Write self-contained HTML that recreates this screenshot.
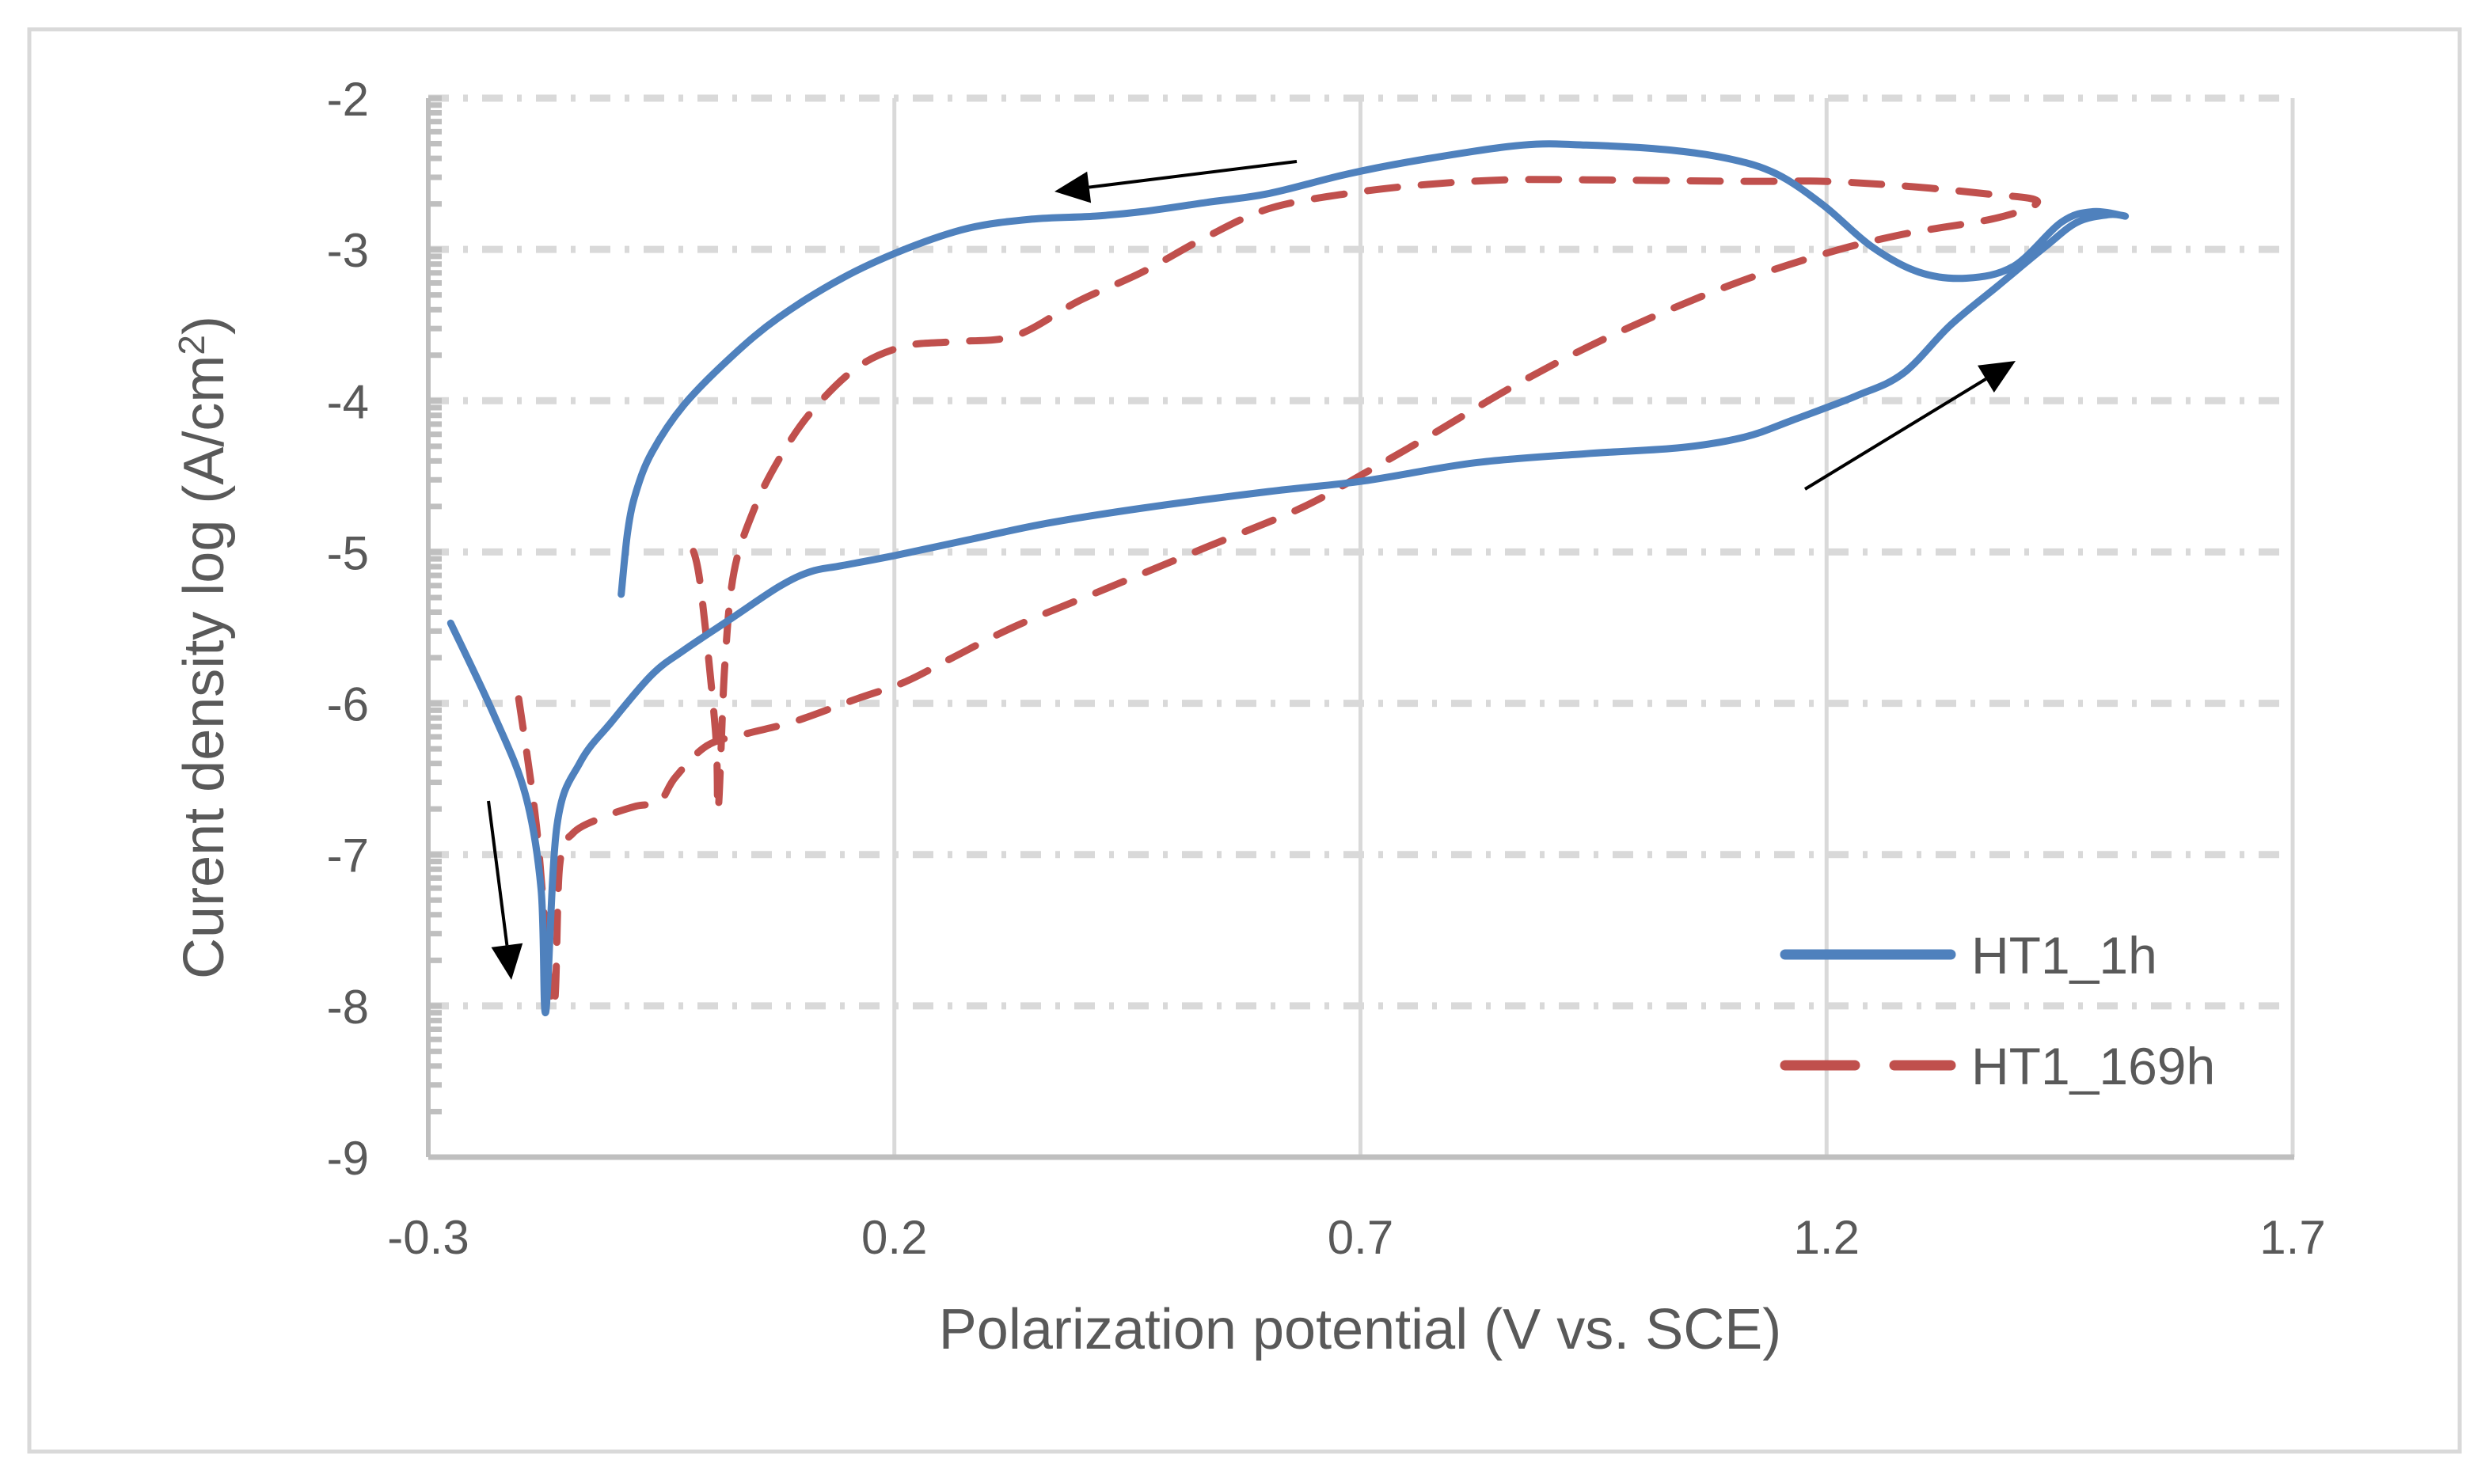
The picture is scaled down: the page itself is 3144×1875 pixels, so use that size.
<!DOCTYPE html>
<html><head><meta charset="utf-8"><style>
html,body{margin:0;padding:0;background:#fff}
svg{display:block;font-family:"Liberation Sans",sans-serif}
</style></head><body>
<svg id="chart" width="3144" height="1875" viewBox="0 0 3144 1875" xmlns="http://www.w3.org/2000/svg">
<rect x="37" y="37" width="3070" height="1797" fill="#fff" stroke="#d9d9d9" stroke-width="5"/>
<g id="grid"></g>
<g id="axes"></g>
<g id="series"></g>
<g id="arrows"></g>
<text x="1718" y="1704" font-size="72" fill="#595959" text-anchor="middle">Polarization potential (V vs. SCE)</text>
<text transform="translate(282,818) rotate(-90)" font-size="72" fill="#595959" text-anchor="middle">Curent density log (A/cm<tspan font-size="46" dy="-24">2</tspan><tspan dy="24">)</tspan></text>
<g>
<line x1="2255" y1="1206" x2="2464" y2="1206" stroke="#4f81bd" stroke-width="13" stroke-linecap="round"/>
<text x="2490" y="1230" font-size="66" fill="#595959">HT1_1h</text>
<line x1="2255" y1="1346" x2="2464" y2="1346" stroke="#c0504d" stroke-width="13" stroke-linecap="round" stroke-dasharray="88 50"/>
<text x="2490" y="1370" font-size="66" fill="#595959">HT1_169h</text>
</g>
</svg>
<script>
const xTicks=[-0.3,0.2,0.7,1.2,1.7];
const yTicks=[-2,-3,-4,-5,-6,-7,-8,-9];
// HT1_1h potential (V) and log current density
const blueX=[-0.276,-0.230,-0.196,-0.179,-0.174,-0.162,-0.137,-0.103,-0.060,-0.026,0.025,0.076,0.110,0.144,0.203,0.279,0.364,0.466,0.602,0.704,0.823,0.942,1.044,1.112,1.163,1.231,1.282,1.333,1.384,1.435,1.469,1.503,1.520,1.486,1.452,1.401,1.350,1.299,1.248,1.197,1.146,1.095,1.027,0.942,0.874,0.772,0.687,0.602,0.534,0.466,0.415,0.347,0.279,0.211,0.144,0.076,0.025,-0.026,-0.060,-0.077,-0.086,-0.093];
const blueY=[-5.47,-6.07,-6.60,-7.23,-8.04,-6.81,-6.39,-6.12,-5.81,-5.65,-5.44,-5.23,-5.13,-5.09,-5.02,-4.92,-4.81,-4.71,-4.60,-4.53,-4.41,-4.35,-4.31,-4.24,-4.13,-3.97,-3.82,-3.50,-3.24,-2.98,-2.82,-2.77,-2.78,-2.75,-2.82,-3.11,-3.19,-3.15,-2.98,-2.71,-2.50,-2.40,-2.34,-2.31,-2.31,-2.40,-2.50,-2.63,-2.69,-2.75,-2.78,-2.80,-2.86,-3.00,-3.19,-3.45,-3.71,-4.03,-4.34,-4.60,-4.86,-5.28];
// HT1_169h
const redX=[-0.203,-0.184,-0.166,-0.159,-0.145,-0.111,-0.077,-0.052,-0.035,-0.001,0.042,0.093,0.160,0.211,0.262,0.330,0.432,0.534,0.636,0.704,0.772,0.874,0.976,1.095,1.197,1.282,1.384,1.426,1.367,1.282,1.197,1.112,0.942,0.857,0.772,0.687,0.602,0.534,0.466,0.398,0.330,0.262,0.211,0.160,0.110,0.076,0.050,0.028,0.018,0.011,0.008,-0.009,-0.021];
const redY=[-5.97,-6.81,-8.01,-7.07,-6.86,-6.75,-6.68,-6.65,-6.49,-6.28,-6.20,-6.12,-5.97,-5.86,-5.70,-5.49,-5.23,-4.97,-4.71,-4.48,-4.24,-3.87,-3.55,-3.24,-3.03,-2.90,-2.79,-2.68,-2.63,-2.58,-2.55,-2.55,-2.54,-2.54,-2.57,-2.63,-2.73,-2.92,-3.15,-3.34,-3.57,-3.61,-3.64,-3.78,-4.08,-4.39,-4.71,-5.13,-5.76,-6.70,-6.18,-5.18,-4.92];

const L=541,R=2896,T=124,B=1462;
const xMin=-0.3,xMax=1.7,yMin=-9,yMax=-2;
function sx(v){return L+(v-xMin)/(xMax-xMin)*(R-L);}
function sy(v){return B-(v-yMin)/(yMax-yMin)*(B-T);}
const NS="http://www.w3.org/2000/svg";
function mk(tag,attrs,parent){const e=document.createElementNS(NS,tag);for(const k in attrs)e.setAttribute(k,attrs[k]);parent.appendChild(e);return e;}
const grid=document.getElementById('grid'),axes=document.getElementById('axes'),series=document.getElementById('series'),arrows=document.getElementById('arrows');
yTicks.forEach(v=>{
  if(v>yMin){const g=mk('line',{x1:L,x2:R,y1:sy(v),y2:sy(v),stroke:'#d9d9d9','stroke-width':9,'stroke-dasharray':'26 18 6 18'},grid);
  
  }
  const t=mk('text',{x:466,y:sy(v)+22,'font-size':60,fill:'#595959','text-anchor':'end'},axes);
  t.textContent=v;
  
  
  if(v>yMin){for(let k=2;k<=9;k++){const yy=sy(v-1+Math.log10(k));
    const m=mk('line',{x1:L,x2:L+17,y1:yy,y2:yy,stroke:'#bfbfbf','stroke-width':7},axes);
    
    }
    const mj=mk('line',{x1:L,x2:L+17,y1:sy(v),y2:sy(v),stroke:'#bfbfbf','stroke-width':7},axes);
    
    }
});
xTicks.forEach(v=>{
  if(v>xMin){const g=mk('line',{x1:sx(v),x2:sx(v),y1:T,y2:B,stroke:'#d9d9d9','stroke-width':5},grid);
  
  }
  const t=mk('text',{x:sx(v),y:1584,'font-size':60,fill:'#595959','text-anchor':'middle'},axes);
  t.textContent=v;
  
  
});
const ya=mk('line',{x1:L,x2:L,y1:T,y2:B,stroke:'#bfbfbf','stroke-width':6},axes);


const xa=mk('line',{x1:L,x2:R+2,y1:B,y2:B,stroke:'#bfbfbf','stroke-width':7},axes);


function smooth(X,Y){
  const P=X.map((x,i)=>[sx(x),sy(Y[i])]);
  let d='M'+P[0][0].toFixed(1)+','+P[0][1].toFixed(1);
  for(let i=0;i<P.length-1;i++){
    const p0=P[Math.max(i-1,0)],p1=P[i],p2=P[i+1],p3=P[Math.min(i+2,P.length-1)];
    const c1=[p1[0]+(p2[0]-p0[0])/6,p1[1]+(p2[1]-p0[1])/6];
    const c2=[p2[0]-(p3[0]-p1[0])/6,p2[1]-(p3[1]-p1[1])/6];
    d+=' C'+c1[0].toFixed(1)+','+c1[1].toFixed(1)+' '+c2[0].toFixed(1)+','+c2[1].toFixed(1)+' '+p2[0].toFixed(1)+','+p2[1].toFixed(1);
  }
  return d;
}
const pr=mk('path',{d:smooth(redX,redY),fill:'none',stroke:'#c0504d','stroke-width':9,'stroke-linejoin':'round','stroke-linecap':'round','stroke-dasharray':'38 30'},series);


const pb=mk('path',{d:smooth(blueX,blueY),fill:'none',stroke:'#4f81bd','stroke-width':9,'stroke-linejoin':'round','stroke-linecap':'round'},series);


function arrow(x1,y1,x2,y2){
  const a=Math.atan2(y2-y1,x2-x1),h=44,w=20;
  const bx=x2-h*Math.cos(a),by=y2-h*Math.sin(a);
  const l=mk('line',{x1:x1,y1:y1,x2:bx,y2:by,stroke:'#000','stroke-width':4},arrows);
  
  
  const p=mk('polygon',{points:`${x2},${y2} ${bx+w*Math.sin(a)},${by-w*Math.cos(a)} ${bx-w*Math.sin(a)},${by+w*Math.cos(a)}`,fill:'#000'},arrows);
  
  
}
arrow(1638,204,1332,242);
arrow(2280,618,2546,456);
arrow(617,1012,646,1238);
</script>
</body></html>
